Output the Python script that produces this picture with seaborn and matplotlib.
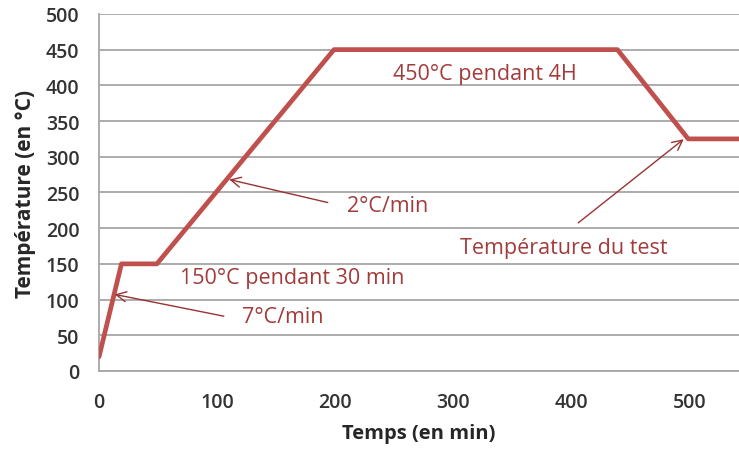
import matplotlib
matplotlib.use("Agg")
import matplotlib.pyplot as plt
import seaborn as sns
import pandas as pd

time_min = [0, 19, 49, 199, 439, 499, 545]
temp_c = [20, 150, 150, 450, 450, 325, 325]
x_ticks = [0, 100, 200, 300, 400, 500]
y_ticks = [0, 50, 100, 150, 200, 250, 300, 350, 400, 450, 500]

sns.set_style("white")
plt.rcParams['font.family'] = ['Open Sans', 'DejaVu Sans']

df = pd.DataFrame({"t": time_min, "T": temp_c})

fig = plt.figure(figsize=(7.39, 4.52), dpi=100)
ax = fig.add_axes([0.134, 0.177, 0.866, 0.790])

sns.lineplot(data=df, x="t", y="T", ax=ax, color="#C0504D", linewidth=3.4, sort=False, zorder=3)

ax.set_xlim(0, 542)
ax.set_ylim(0, 500)
ax.set_xticks(x_ticks)
ax.set_yticks(y_ticks)
ax.yaxis.grid(True, color="#A6A6A6", linewidth=1.3)
ax.set_axisbelow(True)
for s in ["top", "right"]:
    ax.spines[s].set_visible(False)
for s in ["left", "bottom"]:
    ax.spines[s].set_color("#A6A6A6")
    ax.spines[s].set_linewidth(1.3)
ax.tick_params(axis="both", which="both", direction="out", length=6, width=1.3,
               color="#A6A6A6", labelsize=14, labelcolor="#333333")
for lab in ax.get_xticklabels() + ax.get_yticklabels():
    lab.set_fontweight("semibold")
ax.tick_params(axis="x", pad=9)
ax.tick_params(axis="y", pad=8)
ax.set_xlabel("Temps (en min)", fontsize=14.5, fontweight="bold", labelpad=8)
ax.set_ylabel("Température (en °C)", fontsize=15, fontweight="bold", labelpad=7)

tc = "#A33B3B"
ac = "#9A3232"
fs = 15.5
ax.text(249, 417, "450°C pendant 4H", color=tc, fontsize=fs, va="center", ha="left")
ax.text(69, 131, "150°C pendant 30 min", color=tc, fontsize=fs, va="center", ha="left")
ax.annotate("", xy=(108, 269), xytext=(196, 235),
            arrowprops=dict(arrowstyle="->", color=ac, lw=1, mutation_scale=18))
ax.text(210, 232, "2°C/min", color=tc, fontsize=fs, va="center", ha="left")
ax.annotate("", xy=(11, 108), xytext=(108, 76),
            arrowprops=dict(arrowstyle="->", color=ac, lw=1, mutation_scale=18))
ax.text(121, 76, "7°C/min", color=tc, fontsize=fs, va="center", ha="left")
ax.annotate("", xy=(497, 327), xytext=(404, 205),
            arrowprops=dict(arrowstyle="->", color=ac, lw=1, mutation_scale=18))
ax.text(306, 173, "Température du test", color=tc, fontsize=fs, va="center", ha="left")

fig.savefig("out.png", dpi=100)
